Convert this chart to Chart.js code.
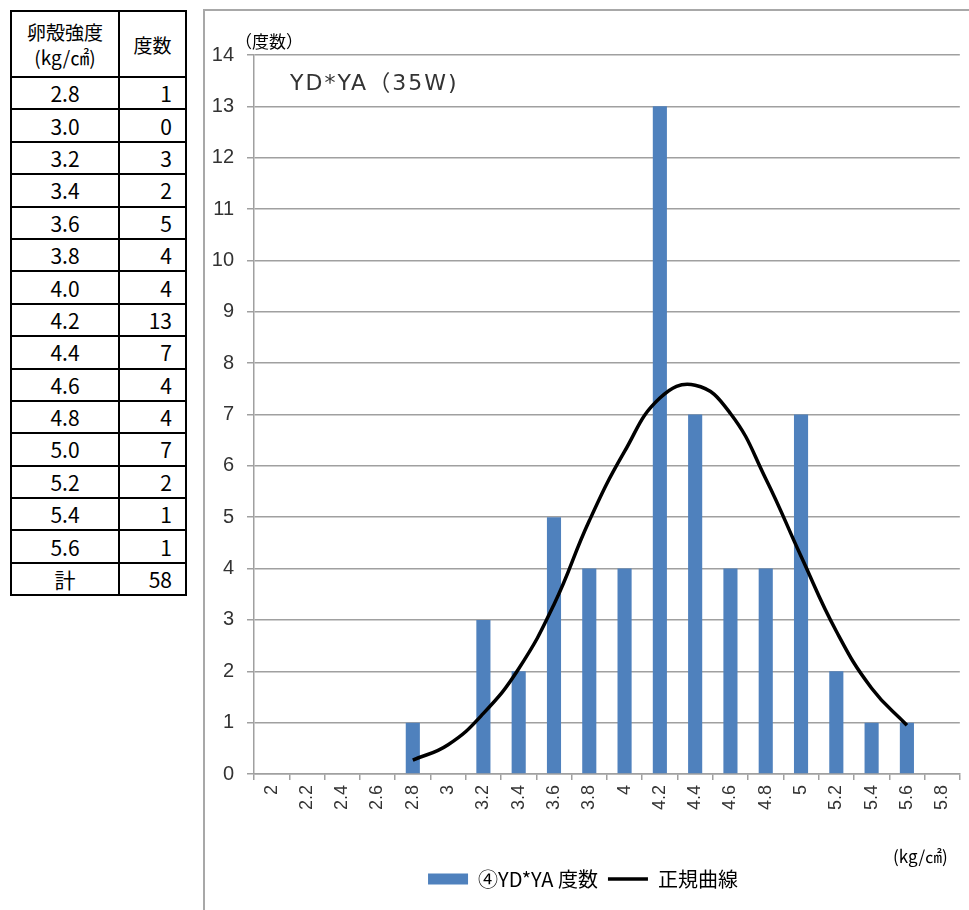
<!DOCTYPE html>
<html lang="ja">
<head>
<meta charset="utf-8">
<title>YD*YA（35W）卵殻強度</title>
<script src="https://cdn.jsdelivr.net/npm/chart.js@4/dist/chart.umd.min.js"></script>
<style>
  body { margin: 0; background: #fff; width: 969px; height: 910px; overflow: hidden; position: relative; }
  #tbl {
    position: absolute; left: 10px; top: 10px;
    border-collapse: collapse;
    font-family: "Noto Sans CJK JP", sans-serif;
    color: #000;
  }
  #tbl th, #tbl td { border: 2px solid #000; padding: 0; }
  #tbl th { font-weight: normal; font-size: 19px; line-height: 25px; height: 64px; }
  #tbl th:first-child { width: 106px; }
  #tbl th:last-child { width: 65px; }
  #tbl td { height: 30.4px; font-size: 21px; line-height: 28px; }
  #tbl td:first-child { text-align: center; }
  #tbl td:last-child { text-align: right; padding-right: 13px; }
  #chartBox {
    position: absolute; left: 203px; top: 9px;
    border-left: 2px solid #a8a8a8; border-top: 2px solid #a8a8a8;
  }
  #chart { display: block; }
</style>
</head>
<body>
<table id="tbl">
  <thead><tr><th>卵殻強度<br>(kg/㎠)</th><th>度数</th></tr></thead>
  <tbody></tbody>
</table>
<div id="chartBox"><canvas id="chart" width="764" height="899"></canvas></div>

<script>
// 卵殻強度の階級（x軸）
const categories = ['2', '2.2', '2.4', '2.6', '2.8', '3', '3.2', '3.4', '3.6', '3.8', '4',
  '4.2', '4.4', '4.6', '4.8', '5', '5.2', '5.4', '5.6', '5.8'];
// 度数
const counts = [null, null, null, null, 1, 0, 3, 2, 5, 4, 4, 13, 7, 4, 4, 7, 2, 1, 1, null];
// 正規曲線
const normalCurve = [null, null, null, null, 0.27, 0.57, 1.18, 2.05, 3.3, 4.93, 6.28,
  7.32, 7.57, 7.02, 5.75, 4.24, 2.78, 1.67, 0.95, null];
// 表の行
const tableStrength = ['2.8', '3.0', '3.2', '3.4', '3.6', '3.8', '4.0', '4.2', '4.4', '4.6', '4.8', '5.0', '5.2', '5.4', '5.6'];
const tableCounts = [1, 0, 3, 2, 5, 4, 4, 13, 7, 4, 4, 7, 2, 1, 1];

const chartTitle = 'YD*YA（35W)';
const yUnit = '（度数）';
const xUnit = '(kg/㎠)';
const barLabel = '④YD*YA 度数';
const lineLabel = '正規曲線';

// 表を作る
const tbody = document.querySelector('#tbl tbody');
tableStrength.forEach((s, i) => {
  const tr = document.createElement('tr');
  tr.innerHTML = '<td>' + s + '</td><td>' + tableCounts[i] + '</td>';
  tbody.appendChild(tr);
});
const total = tableCounts.reduce((a, b) => a + b, 0);
const trTotal = document.createElement('tr');
trTotal.innerHTML = '<td>計</td><td>' + total + '</td>';
tbody.appendChild(trTotal);

const gridGray = '#a0a0a0';
const numFont = '"Liberation Sans", Arial, sans-serif';
const jpFont = '"Noto Sans CJK JP", sans-serif';

// 軸ラベルとタイトル
const extraText = {
  id: 'extraText',
  afterDraw(chart) {
    const { ctx, chartArea } = chart;
    ctx.save();
    ctx.textBaseline = 'middle';
    ctx.fillStyle = '#000';
    ctx.font = '17px ' + jpFont;
    ctx.textAlign = 'left';
    ctx.fillText(yUnit, chartArea.left - 19, chartArea.top - 13);
    ctx.textAlign = 'right';
    ctx.fillText(xUnit, chartArea.right - 12, chartArea.bottom + 83);
    ctx.fillStyle = '#333';
    ctx.font = '22px "DejaVu Sans", ' + jpFont;
    ctx.letterSpacing = '2px';
    ctx.textAlign = 'left';
    ctx.fillText(chartTitle, chartArea.left + 36, chartArea.top + 29);
    ctx.restore();
  }
};

new Chart(document.getElementById('chart'), {
  type: 'bar',
  data: {
    labels: categories,
    datasets: [
      {
        label: barLabel,
        data: counts,
        backgroundColor: '#4f81bd',
        barPercentage: 0.4,
        categoryPercentage: 1,
        order: 1
      },
      {
        type: 'line',
        label: lineLabel,
        data: normalCurve,
        borderColor: '#000',
        backgroundColor: '#000',
        borderWidth: 3.5,
        pointRadius: 0,
        tension: 0.45,
        fill: false,
        order: 0
      }
    ]
  },
  options: {
    responsive: false,
    animation: false,
    layout: { padding: { top: 44, left: 0, right: 8, bottom: 11 } },
    plugins: {
      tooltip: { enabled: false },
      legend: {
        position: 'bottom',
        labels: {
          usePointStyle: true,
          pointStyleWidth: 40,
          boxHeight: 11,
          padding: 10,
          color: '#000',
          font: { size: 20, family: jpFont },
          sort: (a, b) => a.datasetIndex - b.datasetIndex,
          generateLabels(chart) {
            const items = Chart.defaults.plugins.legend.labels.generateLabels(chart);
            items.forEach(it => {
              it.pointStyle = chart.data.datasets[it.datasetIndex].type === 'line' ? 'line' : 'rect';
            });
            return items;
          }
        }
      }
    },
    scales: {
      x: {
        offset: true,
        afterFit(scale) { scale.height = 85; },
        grid: { offset: true, drawOnChartArea: false, tickLength: 6, color: gridGray, lineWidth: 1.5 },
        border: { color: gridGray, width: 1.5 },
        ticks: {
          autoSkip: false, minRotation: 90, maxRotation: 90, padding: 5,
          color: '#333', font: { size: 18, family: numFont }
        }
      },
      y: {
        min: 0,
        max: 14,
        afterFit(scale) { scale.width = 49; },
        grid: { color: gridGray, lineWidth: 1.5, tickLength: 7 },
        border: { color: gridGray, width: 1.5 },
        ticks: { stepSize: 1, padding: 13, color: '#333', font: { size: 20, family: numFont } }
      }
    }
  },
  plugins: [extraText]
});
</script>
</body>
</html>
